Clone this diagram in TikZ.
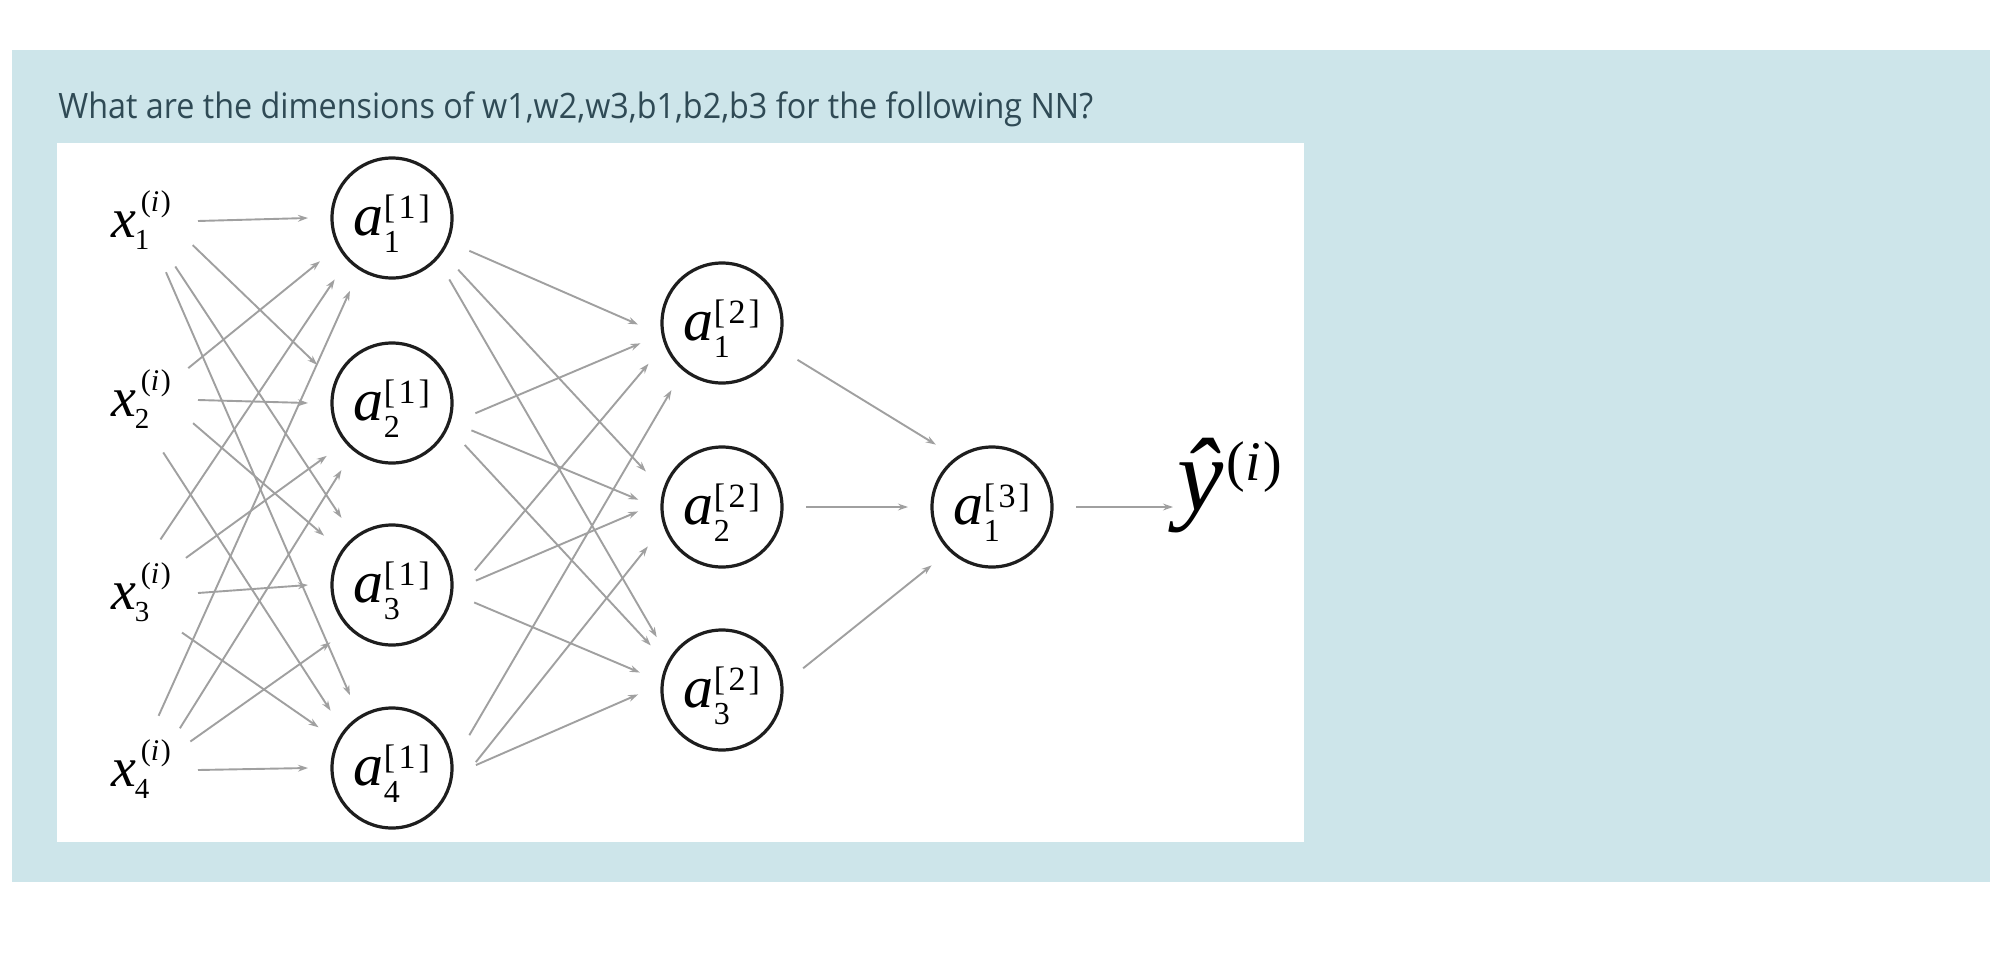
\documentclass[tikz,border=0pt]{standalone}
\usepackage{fontspec}
\setmainfont{Liberation Serif}
\newfontfamily\titlefont[FakeStretch=0.923]{Open Sans}
\usetikzlibrary{arrows.meta,calc}
\definecolor{bluebg}{HTML}{CDE5EA}
\definecolor{titlecol}{HTML}{2F4A55}
\definecolor{linegray}{HTML}{A0A0A0}
\definecolor{ringcol}{HTML}{1E1E1E}
% neuron label a_{sub}^{[sup]}
\newcommand\alab[2]{\raisebox{0pt}[17pt][0pt]{\fontsize{30}{30}\selectfont
  \textit{a}\kern0pt\rlap{\raisebox{-8.5pt}{\fontsize{16}{16}\selectfont #1}}%
  \raisebox{8.5pt}{\fontsize{17}{17}\selectfont[\kern1.6pt#2\kern1.6pt]}}}
% input label x_{sub}^{(i)}
\newcommand\xlab[1]{\raisebox{0pt}[16pt][0pt]{\fontsize{28}{28}\selectfont
  \textit{x}\kern-0.5pt\rlap{\raisebox{-6pt}{\fontsize{14.5}{14.5}\selectfont #1}}%
  \kern3pt\raisebox{13pt}{\fontsize{15}{15}\selectfont(\textit{i}\kern0.8pt)}}}
\begin{document}
\begin{tikzpicture}[x=0.5pt,y=-0.5pt,
  neuron/.style={circle, draw=ringcol, line width=1.6pt, minimum size=60pt,
    inner sep=0pt, outer sep=12pt},
  inlabel/.style={circle, minimum size=57pt, inner sep=0pt, outer sep=0pt},
  conn/.style={draw=linegray, line width=0.95pt,
    -{Stealth[length=5pt,width=3.4pt]}},
]
\useasboundingbox (0,0) rectangle (2000,958);
\fill[white] (0,0) rectangle (2000,958);
\fill[bluebg] (12,50) rectangle (1990,882);
\fill[white] (57,143) rectangle (1304,842);

\node[anchor=base west, inner sep=0pt, text=titlecol,
  font=\titlefont\fontsize{17.5}{22}\selectfont] (title) at (58,118)
  {What are the dimensions of w1,w2,w3,b1,b2,b3 for the following NN?};

% inputs
\node[inlabel] (x1) at (141,221) {\xlab{1}};
\node[inlabel] (x2) at (141,400) {\xlab{2}};
\node[inlabel] (x3) at (141,593) {\xlab{3}};
\node[inlabel] (x4) at (141,770) {\xlab{4}};

% layer 1
\node[neuron] (a1) at (392,218) {\alab{1}{1}};
\node[neuron] (a2) at (392,403) {\alab{2}{1}};
\node[neuron] (a3) at (392,585) {\alab{3}{1}};
\node[neuron] (a4) at (392,768) {\alab{4}{1}};

% layer 2
\node[neuron] (b1) at (722,323) {\alab{1}{2}};
\node[neuron] (b2) at (722,507) {\alab{2}{2}};
\node[neuron] (b3) at (722,690) {\alab{3}{2}};

% layer 3
\node[neuron] (c1) at (992,507) {\alab{1}{3}};

% output
\node[anchor=base west, inner sep=0pt] (yhat) at (1177,510)
  {{\fontsize{52}{52}\selectfont\textit{ŷ}}\kern1.5pt\raisebox{15pt}{\fontsize{28}{28}\selectfont(\textit{i}\kern1.5pt)}};

% input -> layer 1
\foreach \s/\t/\as/\at in {
  x1/a1/0/180, x1/a2/-25/153, x1/a3/-53/127, x1/a4/-64/120,
  x2/a1/34/211, x2/a2/0/180, x2/a3/-24/144, x2/a4/-67/137,
  x3/a1/70/227, x3/a2/38/219, x3/a3/0/180, x3/a4/-44/151,
  x4/a1/72/240, x4/a2/47/233, x4/a3/30/223, x4/a4/0/180}
  \draw[conn] (\s.\as) -- (\t.\at);

% layer 1 -> layer 2
\foreach \s/\t/\as/\at in {
  a1/b1/-23/181, a1/b2/-38/155, a1/b3/-47/141,
  a2/b1/-7/194, a2/b2/-19/175, a2/b3/-30/148,
  a3/b1/10/209, a3/b2/3/183, a3/b3/-12/168,
  a4/b1/23/233, a4/b2/4/208, a4/b3/2/183}
  \draw[conn] (\s.\as) -- (\t.\at);

% layer 2 -> layer 3
\foreach \s/\as/\at in {b1/-26/132, b2/0/180, b3/15/224}
  \draw[conn] (\s.\as) -- (c1.\at);

% output arrow
\draw[conn, shorten >=2pt] (c1) -- (c1 -| yhat.west);
\end{tikzpicture}
\end{document}
